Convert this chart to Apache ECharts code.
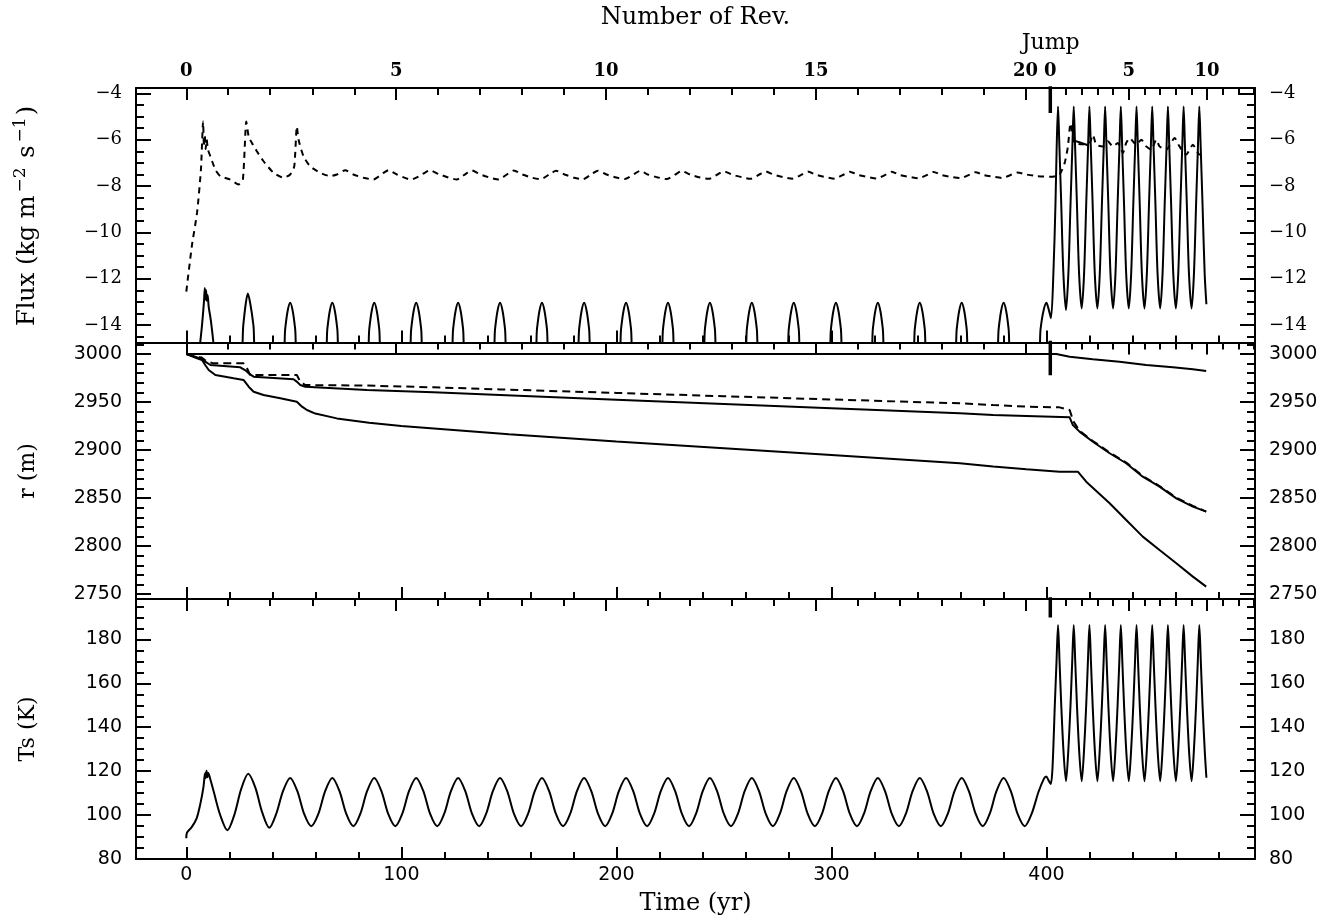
<!DOCTYPE html>
<html>
<head>
<meta charset="utf-8">
<script src="https://cdn.jsdelivr.net/npm/echarts@6/dist/echarts.min.js"></script>
<style>
  html, body { margin: 0; padding: 0; background: #fff; }
  #chart { width: 1333px; height: 923px; }
</style>
</head>
<body>
<div id="chart"></div>
<script>
// ---------- time axis (yr) ----------
const timeMajor = [0, 100, 200, 300, 400];
const timeMinor = [20, 40, 60, 80, 120, 140, 160, 180, 220, 240, 260, 280, 320, 340, 360, 380, 420, 440, 460, 480];

// ---------- revolution counter (time of each revolution start, yr) ----------
const revMajorTimes  = [0, 97.6, 195.2, 292.8, 390.3, 401.8, 438.3, 474.7];
const revMajorLabels = ['0', '5', '10', '15', '20', '0', '5', '10'];
const revMinorTimes  = [19.5, 39.0, 58.6, 78.1, 117.1, 136.6, 156.1, 175.7, 214.7, 234.2, 253.7, 273.2,
                        312.3, 331.8, 351.3, 370.8, 409.1, 416.4, 423.7, 431.0, 445.5, 452.8, 460.1, 467.4,
                        482.0, 489.3, 496.6];

// ---------- y ticks per panel ----------
const fluxMajor = [-14, -12, -10, -8, -6, -4];
const fluxMinor = [-14.5, -13.5, -13, -12.5, -11.5, -11, -10.5, -9.5, -9, -8.5, -7.5, -7, -6.5, -5.5, -5, -4.5];
const rMajor = [2750, 2800, 2850, 2900, 2950, 3000];
const rMinor = [2760, 2770, 2780, 2790, 2810, 2820, 2830, 2840, 2860, 2870, 2880, 2890,
                2910, 2920, 2930, 2940, 2960, 2970, 2980, 2990, 3010];
const tsMajor = [80, 100, 120, 140, 160, 180];
const tsMinor = [85, 90, 95, 105, 110, 115, 125, 130, 135, 145, 150, 155, 165, 170, 175, 185, 190, 195];

// time of the orbital jump (yr)
const jumpTime = [401.8];

// ---------- Flux (log10 kg m^-2 s^-1) ----------
const fluxSolidBefore = [
  [5.8,-15.3],[7.2,-14.1],[8.2,-13.0],[8.6,-12.4],[8.9,-12.9],[9.2,-12.5],[9.5,-12.95],[9.9,-12.7],[10.4,-13.2],[11.4,-13.8],[12.6,-14.75],[13.3,-15.4],
  [25.2,-15.3],[26.5,-14.0],[27.6,-13.1],[28.6,-12.64],[29.8,-13.1],[31.2,-14.0],[32.6,-15.3],
  [44.8,-15.3],[46.0,-14.15],[47.1,-13.4],[48.3,-13.04],[49.5,-13.4],[50.6,-14.15],[51.8,-15.3],
  [64.4,-15.3],[65.6,-14.15],[66.7,-13.4],[67.9,-13.04],[69.1,-13.4],[70.2,-14.15],[71.4,-15.3],
  [83.9,-15.3],[85.1,-14.15],[86.2,-13.4],[87.4,-13.04],[88.6,-13.4],[89.7,-14.15],[90.9,-15.3],
  [103.4,-15.3],[104.6,-14.15],[105.7,-13.4],[106.9,-13.04],[108.1,-13.4],[109.2,-14.15],[110.4,-15.3],
  [122.9,-15.3],[124.1,-14.15],[125.2,-13.4],[126.4,-13.04],[127.6,-13.4],[128.7,-14.15],[129.9,-15.3],
  [142.4,-15.3],[143.6,-14.15],[144.7,-13.4],[145.9,-13.04],[147.1,-13.4],[148.2,-14.15],[149.4,-15.3],
  [161.9,-15.3],[163.1,-14.15],[164.2,-13.4],[165.4,-13.04],[166.6,-13.4],[167.7,-14.15],[168.9,-15.3],
  [181.5,-15.3],[182.7,-14.15],[183.8,-13.4],[185.0,-13.04],[186.2,-13.4],[187.3,-14.15],[188.5,-15.3],
  [201.0,-15.3],[202.2,-14.15],[203.3,-13.4],[204.5,-13.04],[205.7,-13.4],[206.8,-14.15],[208.0,-15.3],
  [220.5,-15.3],[221.7,-14.15],[222.8,-13.4],[224.0,-13.04],[225.2,-13.4],[226.3,-14.15],[227.5,-15.3],
  [240.0,-15.3],[241.2,-14.15],[242.3,-13.4],[243.5,-13.04],[244.7,-13.4],[245.8,-14.15],[247.0,-15.3],
  [259.5,-15.3],[260.7,-14.15],[261.8,-13.4],[263.0,-13.04],[264.2,-13.4],[265.3,-14.15],[266.5,-15.3],
  [279.0,-15.3],[280.2,-14.15],[281.3,-13.4],[282.5,-13.04],[283.7,-13.4],[284.8,-14.15],[286.0,-15.3],
  [298.6,-15.3],[299.8,-14.15],[300.9,-13.4],[302.1,-13.04],[303.3,-13.4],[304.4,-14.15],[305.6,-15.3],
  [318.1,-15.3],[319.3,-14.15],[320.4,-13.4],[321.6,-13.04],[322.8,-13.4],[323.9,-14.15],[325.1,-15.3],
  [337.6,-15.3],[338.8,-14.15],[339.9,-13.4],[341.1,-13.04],[342.3,-13.4],[343.4,-14.15],[344.6,-15.3],
  [357.1,-15.3],[358.3,-14.15],[359.4,-13.4],[360.6,-13.04],[361.8,-13.4],[362.9,-14.15],[364.1,-15.3],
  [376.6,-15.3],[377.8,-14.15],[378.9,-13.4],[380.1,-13.04],[381.3,-13.4],[382.4,-14.15],[383.6,-15.3],
  [396.1,-15.3],[397.3,-14.15],[398.6,-13.4],[400.0,-13.04],[401.0,-13.3],[402.1,-13.7]
];
const fluxSolidAfter = [
  [403.3,-11.6],[404.2,-8.8],[404.8,-6.2],[405.4,-4.57],
  [406.0,-6.2],[406.9,-8.8],[407.9,-11.8],[409.1,-13.35],[410.2,-11.8],[411.2,-8.8],[412.1,-6.2],[412.7,-4.57],
  [413.3,-6.2],[414.2,-8.8],[415.2,-11.8],[416.4,-13.28],[417.5,-11.8],[418.5,-8.8],[419.4,-6.2],[420.0,-4.57],
  [420.6,-6.2],[421.5,-8.8],[422.5,-11.8],[423.7,-13.28],[424.8,-11.8],[425.8,-8.8],[426.7,-6.2],[427.3,-4.57],
  [427.9,-6.2],[428.8,-8.8],[429.8,-11.8],[431.0,-13.28],[432.1,-11.8],[433.1,-8.8],[434.0,-6.2],[434.6,-4.57],
  [435.2,-6.2],[436.1,-8.8],[437.1,-11.8],[438.3,-13.28],[439.4,-11.8],[440.4,-8.8],[441.3,-6.2],[441.9,-4.57],
  [442.5,-6.2],[443.4,-8.8],[444.4,-11.8],[445.6,-13.28],[446.7,-11.8],[447.7,-8.8],[448.6,-6.2],[449.2,-4.57],
  [449.8,-6.2],[450.7,-8.8],[451.7,-11.8],[452.9,-13.28],[454.0,-11.8],[455.0,-8.8],[455.9,-6.2],[456.5,-4.57],
  [457.1,-6.2],[458.0,-8.8],[459.0,-11.8],[460.2,-13.28],[461.3,-11.8],[462.3,-8.8],[463.2,-6.2],[463.8,-4.57],
  [464.4,-6.2],[465.3,-8.8],[466.3,-11.8],[467.5,-13.28],[468.6,-11.8],[469.6,-8.8],[470.5,-6.2],[471.1,-4.57],
  [471.7,-6.2],[472.6,-8.8],[473.6,-11.8],[474.4,-13.1]
];
const fluxSolidShort = [[412.3,-6.0],[414.2,-6.08],[416.6,-6.15],[419.3,-6.24]];
const fluxDashed = [
  [0,-12.55],[2.6,-10.57],[5.0,-9.14],[6.8,-7.29],[7.8,-5.22],[8.2,-6.3],[8.6,-5.8],[9.0,-6.4],[9.5,-6.0],[10.0,-6.4],
  [11.2,-6.72],[13.5,-7.29],[15.8,-7.57],[20.4,-7.72],[24.3,-7.93],[26.3,-7.72],[27.9,-5.22],[29.0,-5.86],[30.5,-6.14],
  [32.8,-6.5],[35.9,-6.93],[40.6,-7.43],[45.2,-7.64],[48.3,-7.5],[50.2,-7.15],[51.4,-5.43],[52.2,-6.0],[54.5,-6.72],
  [57.6,-7.15],[62.3,-7.43],[66.9,-7.57],[70.0,-7.5],[73.9,-7.32],[77.7,-7.5],[82.4,-7.64],[87.0,-7.72],[91.7,-7.43],
  [94.0,-7.32],[97.9,-7.5],[104.5,-7.72],[108.8,-7.55],
  [111.0,-7.42],[113.3,-7.32],[117.3,-7.48],[121.8,-7.63],[125.8,-7.72],
  [130.3,-7.45],[132.8,-7.33],[136.8,-7.5],[141.3,-7.64],[145.3,-7.72],
  [149.8,-7.45],[152.3,-7.33],[156.3,-7.5],[160.8,-7.64],[164.8,-7.71],
  [169.4,-7.46],[171.9,-7.34],[175.9,-7.5],[180.4,-7.64],[184.4,-7.71],
  [188.9,-7.46],[191.4,-7.34],[195.4,-7.5],[199.9,-7.63],[203.9,-7.7],
  [208.4,-7.47],[210.9,-7.35],[214.9,-7.51],[219.4,-7.63],[223.4,-7.7],
  [227.9,-7.47],[230.4,-7.35],[234.4,-7.51],[238.9,-7.63],[242.9,-7.69],
  [247.4,-7.48],[249.9,-7.36],[253.9,-7.51],[258.4,-7.62],[262.4,-7.69],
  [266.9,-7.48],[269.4,-7.37],[273.4,-7.52],[277.9,-7.62],[281.9,-7.68],
  [286.5,-7.49],[289.0,-7.37],[293.0,-7.52],[297.5,-7.62],[301.5,-7.68],
  [306.0,-7.49],[308.5,-7.38],[312.5,-7.52],[317.0,-7.61],[321.0,-7.67],
  [325.5,-7.5],[328.0,-7.38],[332.0,-7.53],[336.5,-7.61],[340.5,-7.67],
  [345.0,-7.5],[347.5,-7.39],[351.5,-7.53],[356.0,-7.61],[360.0,-7.66],
  [364.5,-7.5],[367.0,-7.4],[371.0,-7.53],[375.5,-7.6],[379.5,-7.65],
  [384.0,-7.5],[386.5,-7.42],[390.5,-7.5],[395.5,-7.57],[402.3,-7.6],
  [406.1,-7.5],[408.5,-7.0],[410.0,-6.29],[411.2,-5.29],[412.3,-5.86],[413.1,-6.14],[416.5,-6.2],[420.1,-6.14],
  [421.6,-5.79],[423.2,-6.22],[426.3,-6.29],[428.6,-6.07],[430.9,-6.29],[433.2,-6.14],[435.6,-6.57],[437.1,-6.14],
  [438.7,-5.93],[441.8,-6.22],[444.1,-6.0],[446.4,-6.29],[448.7,-6.43],[451.1,-6.0],[452.6,-6.29],[455.7,-6.43],
  [459.6,-5.93],[461.9,-6.29],[465.0,-6.64],[468.1,-6.22],[471.2,-6.64],[473.5,-6.64]
];

// ---------- radius r (m) ----------
const rTop = [[0,3000],[404.6,3000],[410.8,2997.2],[421.6,2994.5],[434.0,2992.0],[446.4,2988.6],[458.8,2986.2],[468.1,2984.1],[474.3,2982.3]];
const rDashed = [
  [0,3000],[3,2998.5],[7,2996.5],[9.6,2992.0],[12.7,2990.3],[26.6,2990.3],[28.5,2984.0],[29.7,2978.1],[51.4,2978.1],
  [53.0,2971.2],[55.3,2967.7],[84,2967.2],[114.9,2965.3],[145.9,2963.2],[200,2959.5],[250,2956.1],[300,2952.7],
  [359.7,2948.7],[375.2,2946.9],[390.7,2945.2],[406.1,2944.5],[410.8,2941.7],[412.5,2930.0],[415.4,2920.0],
  [421.6,2909.5],[429.4,2897.5],[437.1,2887.0],[444.8,2873.0],[452.6,2862.5],[460.4,2850.5],[468.1,2842.0],[474.3,2836.0]
];
const rMid = [
  [0,3000],[3,2998.0],[6.5,2995.5],[8.8,2992.0],[11.2,2988.6],[25.1,2986.2],[27.5,2983.0],[29.0,2979.9],[31.3,2976.4],
  [49.9,2973.7],[51.5,2971.0],[53.0,2967.7],[55.3,2966.0],[84,2962.5],[114.9,2960.1],[145.9,2957.3],[200,2952.5],
  [250,2948.1],[300,2943.6],[359.7,2938.3],[375.2,2936.5],[390.7,2935.5],[410.8,2934.1],[412.3,2926.1],[415.4,2919.2],
  [421.6,2908.7],[429.4,2896.7],[437.1,2886.3],[444.8,2872.3],[452.6,2862.0],[460.4,2849.8],[468.1,2841.1],[474.3,2835.9]
];
const rLow = [
  [0,3000],[5.0,2995.5],[7.3,2993.8],[8.8,2988.6],[10.4,2983.4],[13.5,2978.1],[22.0,2974.7],[26.6,2973.0],[29.0,2966.0],
  [31.3,2960.8],[35.9,2957.3],[43.7,2953.9],[51.4,2950.4],[53.8,2945.2],[56.1,2941.7],[60,2938.0],[70,2933.0],[85,2928.5],
  [100,2925.0],[150,2916.5],[200,2909.0],[250,2902.0],[300,2895.0],[359.7,2886.3],[375.2,2882.8],[390.7,2880.0],
  [406.1,2877.5],[414.6,2877.5],[418.5,2867.1],[429.4,2844.6],[437.1,2827.3],[444.8,2809.9],[452.6,2796.0],
  [460.4,2782.2],[468.1,2768.3],[474.3,2757.9]
];

// ---------- surface temperature Ts (K) ----------
const tsBefore = [
  [0,89.5],[0.3,92.0],[2.5,94.5],[4.8,98.5],[6.5,105.0],[8.0,113.0],[8.7,119.0],[9.0,116.8],[9.4,120.2],[9.8,117.2],
  [10.2,119.2],[11.2,116.2],[12.8,110.5],[15.6,100.5],[19.1,93.1],
  [22.3,100.0],[25.5,111.8],[28.8,118.8],[32.1,112.5],[35.3,101.2],[38.6,94.2],
  [41.8,100.5],[45.0,111.0],[48.3,116.9],[51.6,111.0],[54.8,100.5],[58.1,94.9],
  [61.4,100.5],[64.6,111.0],[67.9,116.9],[71.2,111.0],[74.4,100.5],[77.7,94.9],
  [80.9,100.5],[84.1,111.0],[87.4,116.9],[90.7,111.0],[93.9,100.5],[97.2,94.9],
  [100.4,100.5],[103.6,111.0],[106.9,116.9],[110.2,111.0],[113.4,100.5],[116.7,94.9],
  [119.9,100.5],[123.1,111.0],[126.4,116.9],[129.7,111.0],[132.9,100.5],[136.2,94.9],
  [139.4,100.5],[142.6,111.0],[145.9,116.9],[149.2,111.0],[152.4,100.5],[155.7,94.9],
  [158.9,100.5],[162.1,111.0],[165.4,116.9],[168.7,111.0],[171.9,100.5],[175.2,94.9],
  [178.5,100.5],[181.7,111.0],[185.0,116.9],[188.3,111.0],[191.5,100.5],[194.8,94.9],
  [198.0,100.5],[201.2,111.0],[204.5,116.9],[207.8,111.0],[211.0,100.5],[214.3,94.9],
  [217.5,100.5],[220.7,111.0],[224.0,116.9],[227.3,111.0],[230.5,100.5],[233.8,94.9],
  [237.0,100.5],[240.2,111.0],[243.5,116.9],[246.8,111.0],[250.0,100.5],[253.3,94.9],
  [256.5,100.5],[259.7,111.0],[263.0,116.9],[266.3,111.0],[269.5,100.5],[272.8,94.9],
  [276.0,100.5],[279.2,111.0],[282.5,116.9],[285.8,111.0],[289.0,100.5],[292.3,94.9],
  [295.6,100.5],[298.8,111.0],[302.1,116.9],[305.4,111.0],[308.6,100.5],[311.9,94.9],
  [315.1,100.5],[318.3,111.0],[321.6,116.9],[324.9,111.0],[328.1,100.5],[331.4,94.9],
  [334.6,100.5],[337.8,111.0],[341.1,116.9],[344.4,111.0],[347.6,100.5],[350.9,94.9],
  [354.1,100.5],[357.3,111.0],[360.6,116.9],[363.9,111.0],[367.1,100.5],[370.4,94.9],
  [373.6,100.5],[376.8,111.0],[380.1,116.9],[383.4,111.0],[386.6,100.5],[389.9,94.9],
  [393.1,100.5],[396.3,110.5],[398.8,116.5],[399.9,117.6],[401.0,115.8],[402.0,114.2]
];
const tsAfter = [
  [402.8,121.0],[403.9,150.0],[404.7,170.0],[405.4,186.6],
  [406.1,170],[406.9,150],[408.0,128],[409.1,115.4],[410.1,128],[411.2,150],[412.0,170],[412.7,186.6],
  [413.4,170],[414.2,150],[415.3,128],[416.4,115.4],[417.4,128],[418.5,150],[419.3,170],[420.0,186.6],
  [420.7,170],[421.5,150],[422.6,128],[423.7,115.4],[424.7,128],[425.8,150],[426.6,170],[427.3,186.6],
  [428.0,170],[428.8,150],[429.9,128],[431.0,115.4],[432.0,128],[433.1,150],[433.9,170],[434.6,186.6],
  [435.3,170],[436.1,150],[437.2,128],[438.3,115.4],[439.3,128],[440.4,150],[441.2,170],[441.9,186.6],
  [442.6,170],[443.4,150],[444.5,128],[445.6,115.4],[446.6,128],[447.7,150],[448.5,170],[449.2,186.6],
  [449.9,170],[450.7,150],[451.8,128],[452.9,115.4],[453.9,128],[455.0,150],[455.8,170],[456.5,186.6],
  [457.2,170],[458.0,150],[459.1,128],[460.2,115.4],[461.2,128],[462.3,150],[463.1,170],[463.8,186.6],
  [464.5,170],[465.3,150],[466.4,128],[467.5,115.4],[468.5,128],[469.6,150],[470.4,170],[471.1,186.6],
  [471.8,170],[472.6,150],[473.7,128],[474.4,117]
];

// ---------- layout / style ----------
const X_MIN = -23.4, X_MAX = 497;
const Y_LIMITS = [[-14.75, -3.77], [2745, 3012], [80, 198.4]];
const Y_MAJOR = [fluxMajor, rMajor, tsMajor];
const Y_MINOR = [fluxMinor, rMinor, tsMinor];
const SERIF = '"DejaVu Serif", serif';
const SANS = '"DejaVu Sans", sans-serif';
const INK = '#000';

const grids = [
  { left: 136, top: 88,    width: 1119, height: 254.5, outerBoundsMode: 'none' },
  { left: 136, top: 342.5, width: 1119, height: 256.5, outerBoundsMode: 'none' },
  { left: 136, top: 599,   width: 1119, height: 260,   outerBoundsMode: 'none' }
];

const withMinus = v => (v < 0 ? '\u2212' + Math.abs(v) : String(v));
const revLabel = v => {
  const i = revMajorTimes.findIndex(t => Math.abs(t - v) < 0.01);
  return i >= 0 ? revMajorLabels[i] : '';
};

const lineOn = { show: true, onZero: false, lineStyle: { color: INK, width: 2 } };
const lineOff = { show: false, onZero: false };
const tickStyle = { color: INK, width: 2 };

const xAxis = [], yAxis = [];
for (let g = 0; g < 3; g++) {
  const xb = { gridIndex: g, type: 'value', min: X_MIN, max: X_MAX, splitLine: { show: false } };
  xAxis.push(
    Object.assign({}, xb, {
      position: 'bottom', axisLine: lineOn,
      axisTick: { show: true, inside: true, length: 12, customValues: timeMajor, lineStyle: tickStyle },
      axisLabel: { show: g === 2, customValues: timeMajor, margin: 7, color: INK, fontFamily: SANS, fontSize: 19 }
    }),
    Object.assign({}, xb, {
      position: 'bottom', axisLine: lineOff,
      axisTick: { show: true, inside: true, length: 7, customValues: timeMinor, lineStyle: tickStyle },
      axisLabel: { show: false }
    }),
    Object.assign({}, xb, {
      position: 'top', axisLine: lineOn,
      axisTick: { show: true, inside: true, length: 12, customValues: revMajorTimes, lineStyle: tickStyle },
      axisLabel: { show: g === 0, customValues: revMajorTimes, formatter: revLabel, margin: 8,
                   color: INK, fontFamily: SERIF, fontSize: 18, fontWeight: 'bold' }
    }),
    Object.assign({}, xb, {
      position: 'top', axisLine: lineOff,
      axisTick: { show: true, inside: true, length: 7, customValues: revMinorTimes, lineStyle: tickStyle },
      axisLabel: { show: false }
    })
  );
  const yb = { gridIndex: g, type: 'value', min: Y_LIMITS[g][0], max: Y_LIMITS[g][1], splitLine: { show: false } };
  const labelFont = g === 0 ? SERIF : SANS;
  const labelSize = g === 0 ? 18 : 19;
  ['left', 'right'].forEach(pos => {
    yAxis.push(
      Object.assign({}, yb, {
        position: pos, axisLine: lineOn,
        axisTick: { show: true, inside: true, length: 15, customValues: Y_MAJOR[g], lineStyle: tickStyle },
        axisLabel: { show: true, customValues: Y_MAJOR[g], formatter: withMinus, margin: 14,
                     color: INK, fontFamily: labelFont, fontSize: labelSize }
      }),
      Object.assign({}, yb, {
        position: pos, axisLine: lineOff,
        axisTick: { show: true, inside: true, length: 8, customValues: Y_MINOR[g], lineStyle: tickStyle },
        axisLabel: { show: false }
      })
    );
  });
}

function curve(data, g, opts) {
  opts = opts || {};
  return {
    type: 'line', data: data, xAxisIndex: g * 4, yAxisIndex: g * 4,
    showSymbol: false, symbol: 'none', silent: true, clip: true,
    smooth: opts.smooth || false,
    lineStyle: { color: INK, width: opts.width || 2, type: opts.dash || 'solid', cap: 'butt' },
    z: opts.z || 2
  };
}

const series = [
  curve(fluxSolidBefore.concat(fluxSolidAfter), 0, { smooth: 0.3 }),
  curve(fluxSolidShort, 0),
  curve(fluxDashed, 0, { dash: [6, 5], smooth: 0.2 }),
  curve(rTop, 1),
  curve(rDashed, 1, { dash: [8, 5] }),
  curve(rMid, 1),
  curve(rLow, 1),
  curve(tsBefore.concat(tsAfter), 2, { smooth: 0.3 }),
  // jump markers
  curve([[jumpTime[0], -3.5], [jumpTime[0], -4.85]], 0, { width: 3.5, z: 3 }),
  curve([[jumpTime[0], 3020], [jumpTime[0], 2978]], 1, { width: 3.5, z: 3 }),
  curve([[jumpTime[0], 205], [jumpTime[0], 190]], 2, { width: 3.5, z: 3 })
];

const titleStyle = (text, size) => ({
  text: text, fontFamily: SERIF, fontSize: size, fill: INK,
  align: 'center', verticalAlign: 'middle', textAlign: 'center', textVerticalAlign: 'middle'
});

const graphic = [
  { type: 'text', x: 695.5, y: 18, style: titleStyle('Number of Rev.', 24) },
  { type: 'text', x: 1050.7, y: 43, style: titleStyle('Jump', 22) },
  { type: 'text', x: 695.5, y: 904, style: titleStyle('Time (yr)', 24) },
  { type: 'text', x: 28, y: 216, rotation: Math.PI / 2,
    style: Object.assign(titleStyle('{n|Flux (kg m}{s|\u22122}{n| s}{s|\u22121}{n|)}', 24), {
      rich: { n: { fontFamily: SERIF, fontSize: 24, fill: INK },
              s: { fontFamily: SERIF, fontSize: 17, fill: INK, padding: [0, 2, 15, 3] } } }) },
  { type: 'text', x: 28, y: 471, rotation: Math.PI / 2, style: titleStyle('r (m)', 22) },
  { type: 'text', x: 28, y: 729, rotation: Math.PI / 2, style: titleStyle('Ts (K)', 22) }
];

const chart = echarts.init(document.getElementById('chart'), null, { renderer: 'canvas' });
chart.setOption({
  animation: false,
  backgroundColor: '#fff',
  grid: grids,
  xAxis: xAxis,
  yAxis: yAxis,
  series: series,
  graphic: graphic
});
</script>
</body>
</html>
